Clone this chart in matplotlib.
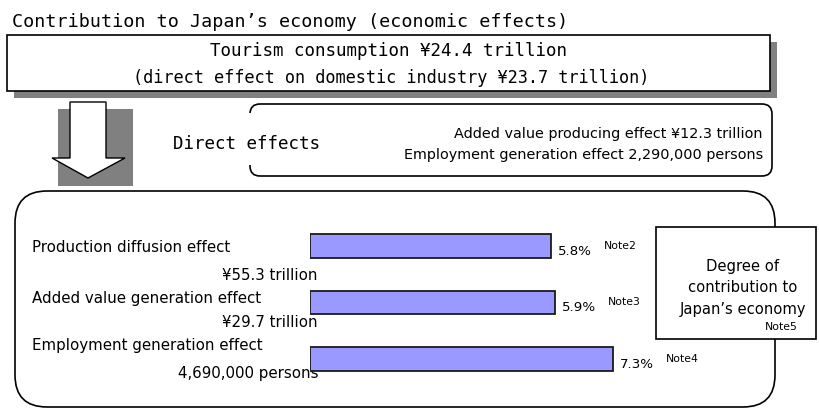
import matplotlib
matplotlib.use('Agg')
import matplotlib.pyplot as plt
from matplotlib.patches import Rectangle, FancyBboxPatch, Polygon

# chart content
title = 'Contribution to Japan\u2019s economy (economic effects)'
consumption_lines = ['Tourism consumption \u00a524.4 trillion',
                     '(direct effect on domestic industry \u00a523.7 trillion)']
direct_label = 'Direct effects'
direct_lines = ['Added value producing effect \u00a512.3 trillion',
                'Employment generation effect 2,290,000 persons']
effects = ['Production diffusion effect',
           'Added value generation effect',
           'Employment generation effect']
amounts = ['\u00a555.3 trillion', '\u00a529.7 trillion', '4,690,000 persons']
shares = [5.8, 5.9, 7.3]
notes = ['Note2', 'Note3', 'Note4']
degree_lines = ['Degree of', 'contribution to', 'Japan\u2019s economy']
degree_note = 'Note5'

W, H = 819, 410
mono = 'DejaVu Sans Mono'
sans = 'DejaVu Sans'

fig = plt.figure(figsize=(W/100, H/100), dpi=100)
ax = fig.add_axes([0, 0, 1, 1])
ax.set_xlim(0, W)
ax.set_ylim(H, 0)
ax.axis('off')

# title
ax.text(12, 27, title, family=mono, fontsize=13.2, va='baseline')

# top box with shadow
ax.add_patch(Rectangle((14, 43), 763, 56, facecolor='#808080', edgecolor='none'))
ax.add_patch(Rectangle((7, 36), 763, 56, facecolor='white', edgecolor='black', lw=1.2))
ax.text(388, 56, consumption_lines[0], family=mono, fontsize=12.6, ha='center', va='baseline')
ax.text(391, 83, consumption_lines[1], family=mono, fontsize=12.2, ha='center', va='baseline')

# arrow
ax.add_patch(Rectangle((58, 110), 75, 77, facecolor='#808080', edgecolor='none'))
ax.add_patch(Polygon([(70, 103), (106, 103), (106, 159), (125, 159), (88, 179),
                      (52, 159), (70, 159)], closed=True,
                     facecolor='white', edgecolor='black', lw=1.0))

# direct effects box
ax.add_patch(FancyBboxPatch((250, 105), 522, 72, boxstyle='round,pad=0,rounding_size=10',
                            facecolor='white', edgecolor='black', lw=1.2))
ax.add_patch(Rectangle((244, 114), 12, 52, facecolor='white', edgecolor='none'))
ax.text(173, 149, direct_label, family=mono, fontsize=12.6, va='baseline')
ax.text(763, 138, direct_lines[0], family=sans, fontsize=10.4, ha='right', va='baseline')
ax.text(763, 159, direct_lines[1], family=sans, fontsize=10.4, ha='right', va='baseline')

# big box
ax.add_patch(FancyBboxPatch((15, 192), 760, 216, boxstyle='round,pad=0,rounding_size=32',
                            facecolor='white', edgecolor='black', lw=1.2))

name_y = [252, 303, 350]
amount_y = [280, 327, 378]
for i in range(3):
    ax.text(32, name_y[i], effects[i], family=sans, fontsize=10.8, va='baseline')
    ax.text(318, amount_y[i], amounts[i], family=sans, fontsize=10.8, ha='right', va='baseline')

# degree box
ax.add_patch(Rectangle((656, 228), 160, 112, facecolor='white', edgecolor='black', lw=1.2))
for i, line in enumerate(degree_lines):
    ax.text(743, 271 + 21.5*i, line, family=sans, fontsize=10.6, ha='center', va='baseline')
ax.text(798, 330, degree_note, family=sans, fontsize=7.8, ha='right', va='baseline')

# bars
px_per_pct = 41.5
bx0, bx1 = 310, 775
by_top, by_bot = 218.75, 388.25
bax = fig.add_axes([bx0/W, (H-by_bot)/H, (bx1-bx0)/W, (by_bot-by_top)/H])
bax.set_xlim(0, (bx1-bx0)/px_per_pct)
bax.set_ylim(2.5, -0.5)
bax.axis('off')
bax.patch.set_alpha(0)
bax.barh(range(3), shares, height=0.41, color='#9999FF', edgecolor='#1a1a1a', lw=1.3)
for i, v in enumerate(shares):
    bax.annotate('%.1f%%' % v, (v, i), xytext=(5, -3), textcoords='offset points',
                 family=sans, fontsize=9.6, va='center')
    bax.annotate(notes[i], (v, i), xytext=(38, 1), textcoords='offset points',
                 family=sans, fontsize=7.8, va='center')

fig.savefig('out.png', dpi=100)
